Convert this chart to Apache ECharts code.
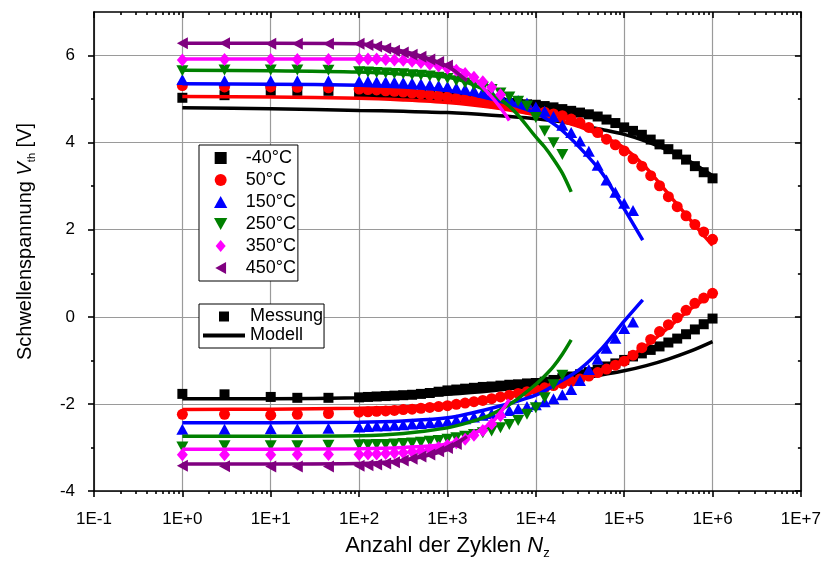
<!DOCTYPE html>
<html>
<head>
<meta charset="utf-8">
<script src="https://cdn.jsdelivr.net/npm/echarts@6/dist/echarts.min.js"></script>
<style>
  html, body { margin: 0; padding: 0; background: #fff; }
  #chart { width: 824px; height: 565px; }
</style>
</head>
<body>
<div id="chart"></div>
<script>
// Cycle counts at which the threshold voltage was measured
const nMeas = [1, 3, 10, 20, 45,
  100, 126, 158, 200, 251, 316, 398, 501, 631, 794,
  1000, 1259, 1585, 1995, 2512, 3162, 3981, 5012, 6310, 7943,
  10000, 12589, 15849, 19953, 25119, 31623, 39811, 50119, 63096, 79433,
  100000, 125893, 158489, 199526, 251189, 316228, 398107, 501187, 630957, 794328,
  1000000];

// Cycle counts at which the model curves are evaluated
const nModel = [1, 10, 100, 316, 1000, 3162, 10000, 17783, 31623, 56234,
  100000, 177828, 316228, 562341, 1000000];
const nModel150 = [1, 10, 100, 316, 1000, 3162, 10000, 17783, 31623, 56234, 100000, 162181];
const nModel250 = [1, 10, 100, 316, 1000, 1778, 3162, 5623, 10000, 12589, 15849, 19953, 25119];
const nModel350 = [1, 10, 100, 316, 1000, 1778, 3162, 3981, 5012];
const nModel450 = [1, 10, 100, 316, 562, 1000, 1259, 1660];

// Temperatures (legend entries)
const temps = ['-40°C', '50°C', '150°C', '250°C', '350°C', '450°C'];

// Measured threshold voltage, upper branch [V]
const measHigh_m40 = [5.03, 5.09, 5.19, 5.19, 5.19,
  5.16, 5.15, 5.14, 5.13, 5.12, 5.11, 5.10, 5.09, 5.08, 5.06,
  5.05, 5.03, 5.01, 4.99, 4.97, 4.95, 4.93, 4.91, 4.89, 4.88,
  4.87, 4.84, 4.81, 4.77, 4.73, 4.69, 4.65, 4.60, 4.53, 4.45,
  4.35, 4.27, 4.18, 4.07, 3.96, 3.85, 3.73, 3.61, 3.46, 3.32,
  3.18];
const measHigh_50 = [5.31, 5.28, 5.28, 5.27, 5.26,
  5.23, 5.22, 5.21, 5.19, 5.18, 5.16, 5.14, 5.12, 5.10, 5.07,
  5.05, 5.02, 5.00, 4.97, 4.94, 4.91, 4.88, 4.85, 4.81, 4.77,
  4.72, 4.70, 4.66, 4.62, 4.54, 4.46, 4.35, 4.23, 4.08, 3.95,
  3.81, 3.63, 3.46, 3.24, 3.01, 2.76, 2.53, 2.32, 2.12, 1.95,
  1.78];
const measHigh_150 = [5.45, 5.42, 5.42, 5.42, 5.42,
  5.41, 5.41, 5.40, 5.40, 5.39, 5.38, 5.37, 5.35, 5.33, 5.31,
  5.29, 5.26, 5.23, 5.20, 5.16, 5.12, 5.07, 5.02, 4.97, 4.91,
  4.82, 4.72, 4.60, 4.40, 4.23, 4.04, 3.80, 3.48, 3.14, 2.86,
  2.61, 2.44];
const measHigh_250 = [5.65, 5.67, 5.67, 5.67, 5.66,
  5.63, 5.62, 5.61, 5.60, 5.59, 5.58, 5.56, 5.55, 5.53, 5.50,
  5.47, 5.42, 5.37, 5.32, 5.27, 5.22, 5.14, 5.05, 4.95, 4.84,
  4.58, 4.27, 4.00, 3.73];
const measHigh_350 = [5.90, 5.91, 5.91, 5.91, 5.91,
  5.92, 5.92, 5.92, 5.91, 5.90, 5.89, 5.87, 5.84, 5.80, 5.76,
  5.71, 5.66, 5.59, 5.50, 5.40, 5.27, 5.10];
const measHigh_450 = [6.28, 6.28, 6.27, 6.27, 6.27,
  6.27, 6.24, 6.21, 6.16, 6.11, 6.07, 6.02, 5.97, 5.91, 5.85,
  5.77];

// Measured threshold voltage, lower branch [V]
const measLow_m40 = [-1.77, -1.78, -1.84, -1.86, -1.86,
  -1.85, -1.84, -1.83, -1.82, -1.81, -1.80, -1.79, -1.77, -1.75, -1.72,
  -1.69, -1.67, -1.65, -1.63, -1.61, -1.60, -1.58, -1.56, -1.55, -1.53,
  -1.52, -1.49, -1.45, -1.41, -1.37, -1.32, -1.27, -1.21, -1.14, -1.07,
  -0.99, -0.91, -0.84, -0.76, -0.68, -0.59, -0.50, -0.40, -0.29, -0.17,
  -0.04];
const measLow_50 = [-2.24, -2.24, -2.26, -2.24, -2.22,
  -2.19, -2.18, -2.17, -2.16, -2.15, -2.13, -2.12, -2.10, -2.08, -2.06,
  -2.04, -2.01, -1.98, -1.95, -1.92, -1.88, -1.84, -1.80, -1.76, -1.72,
  -1.67, -1.63, -1.58, -1.53, -1.48, -1.43, -1.36, -1.28, -1.20, -1.11,
  -1.02, -0.88, -0.71, -0.52, -0.34, -0.18, -0.02, 0.15, 0.31, 0.43,
  0.54];
const measLow_150 = [-2.58, -2.58, -2.57, -2.57, -2.56,
  -2.53, -2.52, -2.51, -2.50, -2.49, -2.48, -2.46, -2.45, -2.43, -2.42,
  -2.40, -2.37, -2.34, -2.30, -2.26, -2.22, -2.19, -2.15, -2.11, -2.06,
  -2.02, -1.95, -1.88, -1.79, -1.67, -1.46, -1.21, -0.97, -0.72, -0.49,
  -0.27, -0.12];
const measLow_250 = [-2.99, -2.96, -2.96, -2.96, -2.95,
  -2.94, -2.94, -2.93, -2.93, -2.92, -2.91, -2.90, -2.88, -2.86, -2.84,
  -2.81, -2.78, -2.74, -2.70, -2.66, -2.62, -2.55, -2.47, -2.38, -2.24,
  -2.09, -1.86, -1.56, -1.34];
const measLow_350 = [-3.17, -3.17, -3.17, -3.16, -3.16,
  -3.16, -3.15, -3.15, -3.14, -3.13, -3.12, -3.10, -3.08, -3.04, -3.00,
  -2.95, -2.89, -2.81, -2.72, -2.61, -2.46, -2.27];
const measLow_450 = [-3.42, -3.43, -3.44, -3.44, -3.44,
  -3.42, -3.41, -3.39, -3.37, -3.34, -3.30, -3.26, -3.21, -3.16, -3.09,
  -3.01, -2.92];

// Model curves, upper branch [V]
const modelHigh_m40 = [4.80, 4.78, 4.74, 4.72, 4.69, 4.63, 4.55, 4.49, 4.40, 4.30, 4.19, 4.03, 3.82, 3.56, 3.24];
const modelHigh_50 = [5.06, 5.05, 5.02, 4.98, 4.92, 4.81, 4.64, 4.52, 4.36, 4.15, 3.88, 3.42, 2.82, 2.22, 1.64];
const modelHigh_150 = [5.35, 5.34, 5.32, 5.28, 5.20, 5.00, 4.68, 4.36, 3.88, 3.30, 2.48, 1.76];
const modelHigh_250 = [5.66, 5.65, 5.62, 5.57, 5.50, 5.36, 5.12, 4.74, 4.13, 3.90, 3.62, 3.30, 2.87];
const modelHigh_350 = [5.92, 5.92, 5.92, 5.88, 5.76, 5.56, 5.05, 4.80, 4.51];
const modelHigh_450 = [6.28, 6.28, 6.27, 6.10, 5.96, 5.76, 5.62, 5.42];

// Model curves, lower branch [V]
const modelLow_m40 = [-1.88, -1.88, -1.86, -1.83, -1.78, -1.70, -1.58, -1.50, -1.42, -1.33, -1.24, -1.12, -0.97, -0.79, -0.57];
const modelLow_50 = [-2.13, -2.12, -2.10, -2.07, -2.00, -1.87, -1.68, -1.57, -1.42, -1.22, -0.98, -0.66, -0.25, 0.18, 0.52];
const modelLow_150 = [-2.43, -2.43, -2.42, -2.39, -2.32, -2.10, -1.80, -1.52, -1.20, -0.72, -0.10, 0.39];
const modelLow_250 = [-2.74, -2.74, -2.73, -2.68, -2.55, -2.42, -2.24, -1.95, -1.55, -1.36, -1.14, -0.86, -0.53];
const modelLow_350 = [-3.04, -3.04, -3.03, -3.00, -2.92, -2.74, -2.43, -2.20, -1.90];
const modelLow_450 = [-3.38, -3.38, -3.37, -3.30, -3.20, -3.05, -2.92, -2.75];

// Axis tick values
const yMajor = [-4, -2, 0, 2, 4, 6];
const yMinor = [-3, -1, 1, 3, 5];

const colors = ['#000000', '#ff0000', '#0000ff', '#008000', '#ff00ff', '#800080'];
const symbols = ['rect', 'circle', 'triangle', 'triangle', 'diamond', 'triangle'];
const rotations = [0, 0, 0, 180, 0, 90];
const symbolSizes = [[10, 10], [11, 11], [12, 11], [12, 11], [11, 13], [12, 11]];
// Legend glyphs drawn as paths so that they keep their aspect ratio
const legendIcons = [
  'path://M0,0L10,0L10,10L0,10Z',
  'path://M0,5A5,5,0,1,1,10,5A5,5,0,1,1,0,5Z',
  'path://M5,0L10,9L0,9Z',
  'path://M0,0L10,0L5,9Z',
  'path://M5,0L10,6L5,12L0,6Z',
  'path://M9,0L9,10L0,5Z'
];

const measHigh = [measHigh_m40, measHigh_50, measHigh_150, measHigh_250, measHigh_350, measHigh_450];
const measLow = [measLow_m40, measLow_50, measLow_150, measLow_250, measLow_350, measLow_450];
const modelHigh = [modelHigh_m40, modelHigh_50, modelHigh_150, modelHigh_250, modelHigh_350, modelHigh_450];
const modelLow = [modelLow_m40, modelLow_50, modelLow_150, modelLow_250, modelLow_350, modelLow_450];
const modelN = [nModel, nModel, nModel150, nModel250, nModel350, nModel450];

function pairs(xs, ys) {
  return ys.map((v, i) => [xs[i], v]);
}

// Minor tick positions (log10 of 2..9 x 10^k) for the logarithmic x axis
const xMinorLog = [];
for (let e = -1; e < 7; e++) {
  for (let k = 2; k <= 9; k++) xMinorLog.push(e + Math.log10(k));
}

const FONT = 'Liberation Sans, Arial, sans-serif';

const series = [];
temps.forEach((t, i) => {
  const markerStyle = {
    type: 'scatter',
    xAxisIndex: 0, yAxisIndex: 0,
    symbol: symbols[i],
    symbolRotate: rotations[i],
    symbolSize: symbolSizes[i],
    symbolKeepAspect: true,
    itemStyle: { color: colors[i], opacity: 1 },
    silent: true,
    z: 3 + i
  };
  const lineStyle = {
    type: 'line',
    xAxisIndex: 0, yAxisIndex: 0,
    smooth: 0.3,
    showSymbol: false,
    symbol: 'none',
    lineStyle: { color: colors[i], width: 3.5 },
    itemStyle: { color: colors[i] },
    silent: true,
    z: 3 + i
  };
  series.push(Object.assign({ name: t, data: pairs(nMeas, measHigh[i]) }, markerStyle));
  series.push(Object.assign({ name: t, data: pairs(nMeas, measLow[i]) }, markerStyle));
  series.push(Object.assign({ name: 'Modell ' + t, data: pairs(modelN[i], modelHigh[i]) }, lineStyle));
  series.push(Object.assign({ name: 'Modell ' + t, data: pairs(modelN[i], modelLow[i]) }, lineStyle));
});
// Entries of the second legend
series.push({ name: 'Messung', type: 'scatter', data: [], symbol: 'rect', symbolSize: 9, itemStyle: { color: '#000', opacity: 1 } });
series.push({ name: 'Modell', type: 'line', data: [], symbol: 'none', lineStyle: { color: '#000', width: 3.5 }, itemStyle: { color: '#000' } });

const axisLineStyle = { color: '#000', width: 1.6 };
const gridLineStyle = { color: '#9a9a9a', width: 1.2 };

function expLabel(v) {
  const e = Math.round(Math.log10(v));
  return '1E' + (e >= 0 ? '+' : '') + e;
}

const option = {
  backgroundColor: '#fff',
  animation: false,
  grid: { left: 94, right: 22, top: 12, bottom: 72, containLabel: false },
  xAxis: [
    {
      type: 'log', logBase: 10, min: 0.1, max: 1e7, splitNumber: 8,
      position: 'bottom', gridIndex: 0,
      axisLine: { show: true, onZero: false, lineStyle: axisLineStyle },
      axisTick: { show: true, inside: false, length: 6, lineStyle: axisLineStyle },
      axisLabel: { show: true, margin: 20, color: '#000', fontFamily: FONT, fontSize: 17, formatter: expLabel },
      splitLine: { show: true, lineStyle: gridLineStyle },
      minorTick: { show: false }, minorSplitLine: { show: false },
      name: '{a|Anzahl der Zyklen }{i|N}{s|z}',
      nameLocation: 'middle', nameGap: 41,
      nameTextStyle: {
        rich: {
          a: { fontFamily: FONT, fontSize: 22, color: '#000', lineHeight: 28, verticalAlign: 'middle' },
          i: { fontFamily: FONT, fontSize: 22, fontStyle: 'italic', color: '#000', lineHeight: 28, verticalAlign: 'middle' },
          s: { fontFamily: FONT, fontSize: 13, color: '#000', lineHeight: 13, verticalAlign: 'bottom' }
        }
      }
    },
    {
      type: 'value', min: -1, max: 7, position: 'bottom', gridIndex: 0,
      axisLine: { show: false, onZero: false },
      axisTick: { show: true, inside: false, length: 3, lineStyle: axisLineStyle, customValues: xMinorLog },
      axisLabel: { show: false }, splitLine: { show: false }
    },
    {
      type: 'log', logBase: 10, min: 0.1, max: 1e7, splitNumber: 8,
      position: 'top', gridIndex: 0,
      axisLine: { show: true, onZero: false, lineStyle: axisLineStyle },
      axisTick: { show: true, inside: true, length: 6, lineStyle: axisLineStyle },
      axisLabel: { show: false }, splitLine: { show: false }
    },
    {
      type: 'value', min: -1, max: 7, position: 'top', gridIndex: 0,
      axisLine: { show: false, onZero: false },
      axisTick: { show: true, inside: true, length: 3, lineStyle: axisLineStyle, customValues: xMinorLog },
      axisLabel: { show: false }, splitLine: { show: false }
    }
  ],
  yAxis: [
    {
      type: 'value', min: -4, max: 7, interval: 2, position: 'left', gridIndex: 0,
      axisLine: { show: true, onZero: false, lineStyle: axisLineStyle },
      axisTick: { show: true, inside: false, length: 6, lineStyle: axisLineStyle, customValues: yMajor },
      axisLabel: { show: true, margin: 19, color: '#000', fontFamily: FONT, fontSize: 17, customValues: yMajor },
      splitLine: { show: true, lineStyle: gridLineStyle },
      name: '{a|Schwellenspannung }{i|V}{s|th}{a| [V]}',
      nameLocation: 'middle', nameGap: 57, nameRotate: 90,
      nameTextStyle: {
        padding: [0, 0, 0, 20],
        rich: {
          a: { fontFamily: FONT, fontSize: 20, color: '#000', lineHeight: 24, verticalAlign: 'middle' },
          i: { fontFamily: FONT, fontSize: 20, fontStyle: 'italic', color: '#000', lineHeight: 24, verticalAlign: 'middle' },
          s: { fontFamily: FONT, fontSize: 11, color: '#000', lineHeight: 11, verticalAlign: 'bottom' }
        }
      }
    },
    {
      type: 'value', min: -4, max: 7, position: 'left', gridIndex: 0,
      axisLine: { show: false, onZero: false },
      axisTick: { show: true, inside: false, length: 3, lineStyle: axisLineStyle, customValues: yMinor },
      axisLabel: { show: false }, splitLine: { show: false }
    },
    {
      type: 'value', min: -4, max: 7, position: 'right', gridIndex: 0,
      axisLine: { show: true, onZero: false, lineStyle: axisLineStyle },
      axisTick: { show: true, inside: true, length: 6, lineStyle: axisLineStyle, customValues: yMajor },
      axisLabel: { show: false }, splitLine: { show: false }
    },
    {
      type: 'value', min: -4, max: 7, position: 'right', gridIndex: 0,
      axisLine: { show: false, onZero: false },
      axisTick: { show: true, inside: true, length: 3, lineStyle: axisLineStyle, customValues: yMinor },
      axisLabel: { show: false }, splitLine: { show: false }
    }
  ],
  legend: [
    {
      orient: 'vertical', left: 199, top: 145,
      padding: [3, 2, 3, 15],
      itemWidth: 40, itemHeight: 12, itemGap: 2,
      symbolKeepAspect: true,
      borderColor: '#000', borderWidth: 1, backgroundColor: '#fff',
      selectedMode: false,
      textStyle: { fontFamily: FONT, fontSize: 18, color: '#000', lineHeight: 20 },
      data: temps.map((t, i) => ({ name: t, icon: legendIcons[i], itemStyle: { color: colors[i], opacity: 1 } }))
    },
    {
      orient: 'vertical', left: 199, top: 304,
      padding: [3, 1, 3, 4],
      itemWidth: 42, itemHeight: 10, itemGap: 0,
      symbolKeepAspect: true,
      borderColor: '#000', borderWidth: 1, backgroundColor: '#fff',
      selectedMode: false,
      textStyle: { fontFamily: FONT, fontSize: 18, color: '#000', lineHeight: 19 },
      data: [
        { name: 'Messung', icon: 'path://M0,0L10,0L10,10L0,10Z', itemStyle: { color: '#000', opacity: 1 } },
        { name: 'Modell', icon: 'path://M0,0L40,0L40,3.6L0,3.6Z', itemStyle: { color: '#000', opacity: 1 } }
      ]
    }
  ],
  series: series
};

const chart = echarts.init(document.getElementById('chart'), null, { renderer: 'canvas' });
chart.setOption(option);
</script>
</body>
</html>
